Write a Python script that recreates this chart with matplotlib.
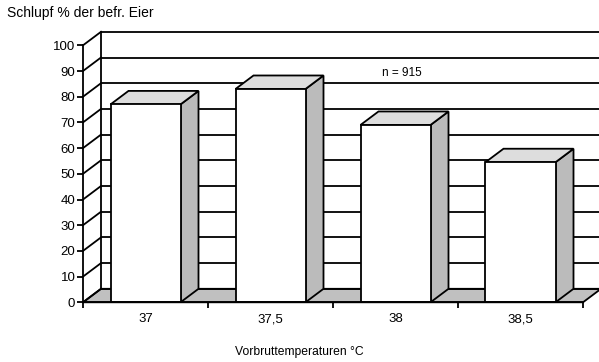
import matplotlib
matplotlib.use("Agg")
import matplotlib.pyplot as plt
from matplotlib.patches import Polygon
import numpy as np

plt.rcParams['font.family'] = ['Liberation Sans', 'DejaVu Sans']

categories = ["37", "37,5", "38", "38,5"]
values = [77, 83, 69, 54.5]
yticks = list(range(0, 101, 10))
ylabel = "Schlupf % der befr. Eier"
xlabel = "Vorbruttemperaturen °C"
note = "n = 915"

W, H = 599, 362
fig = plt.figure(figsize=(W / 100, H / 100), dpi=100)
ax = fig.add_axes([83 / W, (H - 302.3) / H, 500 / W, 257 / H])
ax.set_xlim(-0.5, len(categories) - 0.5)
ax.set_ylim(0, 100)

# depth offset in data units (~18 px right, ~13.5 px up)
DX = 18 / 125
DY = 13.5 / 2.57
LW = 1.3
x0, x1 = -0.5, len(categories) - 0.5

# floor
ax.add_patch(Polygon([(x0, 0), (x1, 0), (x1 + DX, DY), (x0 + DX, DY)],
                     closed=True, facecolor="#c0c0c0", edgecolor="black",
                     lw=LW, clip_on=False, zorder=1))
# back wall gridlines and left wall diagonals
for v in yticks:
    ax.plot([x0 + DX, x1 + DX + 0.2], [v + DY, v + DY], color="black", lw=LW,
            clip_on=False, zorder=1, solid_capstyle="butt")
    ax.plot([x0, x0 + DX], [v, v + DY], color="black", lw=LW,
            clip_on=False, zorder=1)
ax.plot([x0 + DX, x0 + DX], [DY, 100 + DY], color="black", lw=LW,
        clip_on=False, zorder=1)

# bars
bw = 0.56
xs = np.arange(len(categories))
for x, h in zip(xs, values):
    l, r = x - bw / 2, x + bw / 2
    ax.add_patch(Polygon([(r, 0), (r + DX, DY), (r + DX, h + DY), (r, h)],
                         closed=True, facecolor="#bbbbbb", edgecolor="black",
                         lw=LW, zorder=3, clip_on=False, joinstyle="miter"))
    ax.add_patch(Polygon([(l, h), (r, h), (r + DX, h + DY), (l + DX, h + DY)],
                         closed=True, facecolor="#dddddd", edgecolor="black",
                         lw=LW, zorder=3, clip_on=False, joinstyle="miter"))
ax.bar(xs, values, width=bw, color="white", edgecolor="black", lw=LW,
       zorder=4, clip_on=False)

ax.text(1.892, 89.4, note, fontsize=8.5, ha="left", va="center", zorder=2)

# axes styling
for s in ["top", "right"]:
    ax.spines[s].set_visible(False)
ax.spines["left"].set_linewidth(LW)
ax.spines["bottom"].set_linewidth(LW)
ax.spines["left"].set_zorder(5)
ax.spines["bottom"].set_zorder(5)
ax.patch.set_alpha(0)

ax.set_yticks(yticks)
ax.set_yticklabels([str(v) for v in yticks], fontsize=9.5)
ax.tick_params(axis="y", direction="out", length=4, width=LW, pad=1.5)

ax.set_xticks(xs)
ax.set_xticklabels(categories, fontsize=9.5)
ax.set_xticks(np.arange(-0.5, len(categories)), minor=True)
ax.tick_params(axis="x", which="major", length=0, pad=8)
ax.tick_params(axis="x", which="minor", direction="out", length=4, width=LW)

fig.text(7 / W, 1 - 13 / H, ylabel, fontsize=10, ha="left", va="center")
fig.text(299 / W, 1 - 352 / H, xlabel, fontsize=8.7, ha="center", va="center")

fig.savefig("out.png", dpi=100, facecolor="white")
